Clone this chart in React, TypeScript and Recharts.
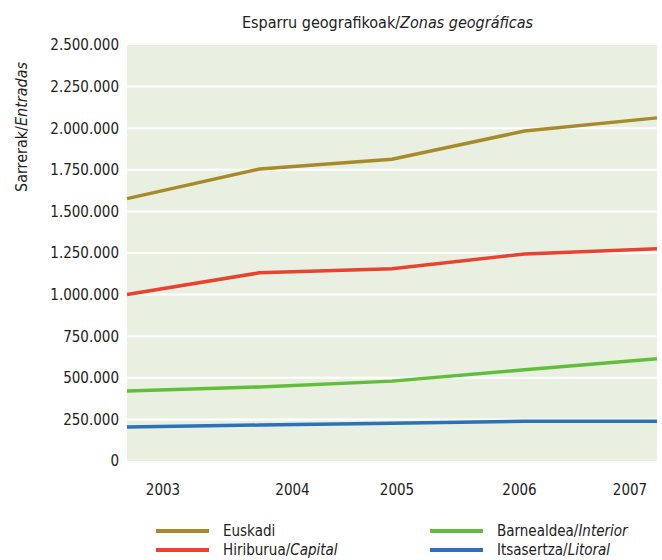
import React from "react";
import { LineChart, Line, XAxis, YAxis, CartesianGrid } from "recharts";

const years = ["2003", "2004", "2005", "2006", "2007"];
const euskadi = [1577000, 1755000, 1814000, 1983000, 2062000];
const capital = [1000000, 1131000, 1156000, 1244000, 1275000];
const interior = [420000, 445000, 480000, 548000, 615000];
const litoral = [205000, 216000, 227000, 239000, 239000];
const yTicks = [0, 250000, 500000, 750000, 1000000, 1250000, 1500000, 1750000, 2000000, 2250000, 2500000];

const data = years.map((y, i) => ({
  year: y,
  euskadi: euskadi[i],
  capital: capital[i],
  interior: interior[i],
  litoral: litoral[i],
}));

const FONT = "'Liberation Sans Narrow', 'DejaVu Sans Condensed', 'Arial Narrow', sans-serif";
const COLORS = {
  euskadi: "#a78b2b",
  capital: "#e8432f",
  interior: "#63bd3d",
  litoral: "#2c72b5",
};

const fmt = (v: number) => String(v).replace(/\B(?=(\d{3})+(?!\d))/g, ".");

const TICK_DX = [36, 33, 5, -5, -27];
const XTick = (props: any) => {
  const { x, y, payload, index } = props;
  return (
    <text x={x + (TICK_DX[index] || 0)} y={y} dy={26} textAnchor="middle" fill="#222" fontSize={15} fontFamily={FONT}>
      {payload.value}
    </text>
  );
};

const legendItems = [
  { key: "euskadi", a: "Euskadi", b: "", col: 0, row: 0 },
  { key: "capital", a: "Hiriburua/", b: "Capital", col: 0, row: 1 },
  { key: "interior", a: "Barnealdea/", b: "Interior", col: 1, row: 0 },
  { key: "litoral", a: "Itsasertza/", b: "Litoral", col: 1, row: 1 },
];

export default function App() {
  return (
    <div style={{ position: "absolute", left: 0, top: 0, width: 662, height: 560, background: "#fff", fontFamily: FONT, color: "#222" }}>
      <LineChart width={662} height={560} data={data} margin={{ top: 45, right: 5, bottom: 0, left: 0 }}>
        <CartesianGrid
          vertical={false}
          fill="#e9f0e2"
          stroke="#ffffff"
          strokeWidth={2}
          horizontalValues={yTicks.slice(1, -1)}
        />
        <XAxis
          dataKey="year"
          type="category"
          padding={{ left: 0, right: 0 }}
          axisLine={false}
          tickLine={false}
          height={99}
          tick={<XTick />}
          interval={0}
        />
        <YAxis
          width={127}
          domain={[0, 2500000]}
          ticks={yTicks}
          tickFormatter={fmt}
          axisLine={false}
          tickLine={false}
          tick={{ fill: "#222", fontSize: 15, fontFamily: FONT }}
          interval={0}
        />
        <Line type="linear" dataKey="litoral" stroke={COLORS.litoral} strokeWidth={3.5} dot={false} isAnimationActive={false} />
        <Line type="linear" dataKey="interior" stroke={COLORS.interior} strokeWidth={3.5} dot={false} isAnimationActive={false} />
        <Line type="linear" dataKey="capital" stroke={COLORS.capital} strokeWidth={3.5} dot={false} isAnimationActive={false} />
        <Line type="linear" dataKey="euskadi" stroke={COLORS.euskadi} strokeWidth={3.5} dot={false} isAnimationActive={false} />
      </LineChart>

      <div style={{ position: "absolute", left: 0, width: 775, top: 13, textAlign: "center", fontSize: 16, lineHeight: "20px", whiteSpace: "nowrap" }}>
        Esparru geografikoak/<i>Zonas geográficas</i>
      </div>

      <div style={{ position: "absolute", left: 22, top: 127, fontSize: 16, lineHeight: "20px", whiteSpace: "nowrap", transform: "translate(-50%, -50%) rotate(-90deg)" }}>
        Sarrerak/<i>Entradas</i>
      </div>

      {legendItems.map((it) => (
        <div
          key={it.key}
          style={{
            position: "absolute",
            left: it.col === 0 ? 156 : 430,
            top: it.row === 0 ? 521 : 540,
            height: 20,
            display: "flex",
            alignItems: "center",
            fontSize: 15,
            whiteSpace: "nowrap",
          }}
        >
          <span style={{ display: "inline-block", width: 53, height: 4, background: (COLORS as any)[it.key], marginRight: 14 }} />
          <span>
            {it.a}
            {it.b ? <i>{it.b}</i> : null}
          </span>
        </div>
      ))}
    </div>
  );
}
